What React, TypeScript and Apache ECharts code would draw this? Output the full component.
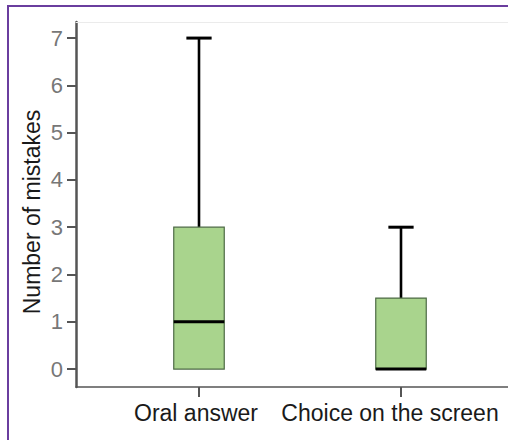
import React, { useEffect, useRef } from "react";
import * as echarts from "echarts";

const categories = ["Oral answer", "Choice on the screen"];
const minValues = [0, 0];
const q1Values = [0, 0];
const medianValues = [1, 0];
const q3Values = [3, 1.5];
const maxValues = [7, 3];
const yTickMin = 0;
const yTickMax = 7;
const yTickStep = 1;
const yAxisTitle = "Number of mistakes";

const FONT = "'Liberation Sans', Arial, Helvetica, sans-serif";

export default function App() {
  const ref = useRef<HTMLDivElement>(null);
  useEffect(() => {
    if (!ref.current) return;
    const chart = echarts.init(ref.current, undefined, { renderer: "svg" });
    const data = categories.map((_, i) => [
      i,
      minValues[i],
      q1Values[i],
      medianValues[i],
      q3Values[i],
      maxValues[i],
    ]);
    const option: any = {
      animation: false,
      backgroundColor: "#ffffff",
      graphic: [
        {
          type: "rect",
          shape: { x: 8, y: 6, width: 520, height: 460 },
          style: { fill: "none", stroke: "#6a3d9e", lineWidth: 2 },
          silent: true,
        },
        {
          type: "text",
          x: 32,
          y: 212,
          rotation: Math.PI / 2,
          style: {
            text: yAxisTitle,
            fontSize: 23,
            fontFamily: FONT,
            fill: "#1a1a1a",
            align: "center",
            verticalAlign: "middle",
          },
          silent: true,
        },
      ],
      grid: [
        { left: 76, right: -4, top: 22, bottom: 53, containLabel: false },
        { left: 98, width: 404, top: 22, bottom: 53, containLabel: false },
        { left: 76, width: 10, top: 38, height: 331, containLabel: false },
      ],
      xAxis: [
        {
          gridIndex: 0,
          type: "category",
          data: [""],
          position: "bottom",
          axisLine: { show: true, onZero: false, lineStyle: { color: "#555555", width: 1.5 } },
          axisTick: { show: false },
          axisLabel: { show: false },
          splitLine: { show: false },
        },
        {
          gridIndex: 0,
          type: "category",
          data: [""],
          position: "top",
          axisLine: { show: true, onZero: false, lineStyle: { color: "#ebebeb", width: 1 } },
          axisTick: { show: false },
          axisLabel: { show: false },
          splitLine: { show: false },
        },
        {
          gridIndex: 1,
          type: "category",
          data: [
            { value: categories[0], textStyle: { padding: [0, 6, 0, 0] } },
            { value: categories[1], textStyle: { padding: [0, 22, 0, 0] } },
          ],
          position: "bottom",
          axisLine: { show: false, onZero: false },
          axisTick: {
            show: true,
            alignWithLabel: true,
            length: 10,
            lineStyle: { color: "#555555", width: 2 },
          },
          axisLabel: {
            show: true,
            interval: 0,
            margin: 14,
            fontSize: 23,
            fontFamily: FONT,
            color: "#1a1a1a",
          },
          splitLine: { show: false },
        },
        {
          gridIndex: 2,
          type: "value",
          show: false,
        },
      ],
      yAxis: [
        {
          gridIndex: 0,
          type: "value",
          min: 0,
          max: 1,
          axisLine: { show: true, onZero: false, lineStyle: { color: "#555555", width: 2.5 } },
          axisTick: { show: false },
          axisLabel: { show: false },
          splitLine: { show: false },
        },
        {
          gridIndex: 1,
          type: "value",
          min: -0.38,
          max: 7.34,
          show: false,
          splitLine: { show: false },
        },
        {
          gridIndex: 2,
          type: "value",
          min: yTickMin,
          max: yTickMax,
          interval: yTickStep,
          axisLine: { show: false, onZero: false },
          axisTick: {
            show: true,
            length: 9,
            lineStyle: { color: "#555555", width: 2 },
          },
          axisLabel: {
            show: true,
            margin: 13,
            fontSize: 22,
            fontFamily: FONT,
            color: "#777777",
          },
          splitLine: { show: false },
        },
      ],
      series: [
        {
          type: "custom",
          xAxisIndex: 2,
          yAxisIndex: 1,
          data,
          renderItem: (params: any, api: any) => {
            const cat = api.value(0);
            const vMin = api.value(1);
            const vQ1 = api.value(2);
            const vMed = api.value(3);
            const vQ3 = api.value(4);
            const vMax = api.value(5);
            const band = api.size([1, 0])[0];
            const halfBox = band * 0.125;
            const halfCap = halfBox / 2;
            const pMin = api.coord([cat, vMin]);
            const pQ1 = api.coord([cat, vQ1]);
            const pMed = api.coord([cat, vMed]);
            const pQ3 = api.coord([cat, vQ3]);
            const pMax = api.coord([cat, vMax]);
            const cx = pMed[0];
            const children: any[] = [];
            const black = { stroke: "#000000", lineWidth: 2.6 };
            if (vMax > vQ3) {
              children.push({
                type: "line",
                shape: { x1: cx, y1: pQ3[1], x2: cx, y2: pMax[1] },
                style: black,
              });
              children.push({
                type: "line",
                shape: { x1: cx - halfCap, y1: pMax[1], x2: cx + halfCap, y2: pMax[1] },
                style: { stroke: "#000000", lineWidth: 3 },
              });
            }
            if (vMin < vQ1) {
              children.push({
                type: "line",
                shape: { x1: cx, y1: pQ1[1], x2: cx, y2: pMin[1] },
                style: black,
              });
              children.push({
                type: "line",
                shape: { x1: cx - halfCap, y1: pMin[1], x2: cx + halfCap, y2: pMin[1] },
                style: { stroke: "#000000", lineWidth: 3 },
              });
            }
            children.push({
              type: "rect",
              shape: {
                x: cx - halfBox,
                y: pQ3[1],
                width: halfBox * 2,
                height: pQ1[1] - pQ3[1],
              },
              style: { fill: "#a9d48d", stroke: "#4d6a45", lineWidth: 1.2 },
            });
            children.push({
              type: "line",
              shape: { x1: cx - halfBox, y1: pMed[1], x2: cx + halfBox, y2: pMed[1] },
              style: { stroke: "#000000", lineWidth: 3 },
            });
            return { type: "group", children };
          },
        },
      ],
    };
    chart.setOption(option);
    return () => chart.dispose();
  }, []);
  return (
    <div
      ref={ref}
      style={{ position: "fixed", left: 0, top: 0, width: 508, height: 440, background: "#fff" }}
    />
  );
}
